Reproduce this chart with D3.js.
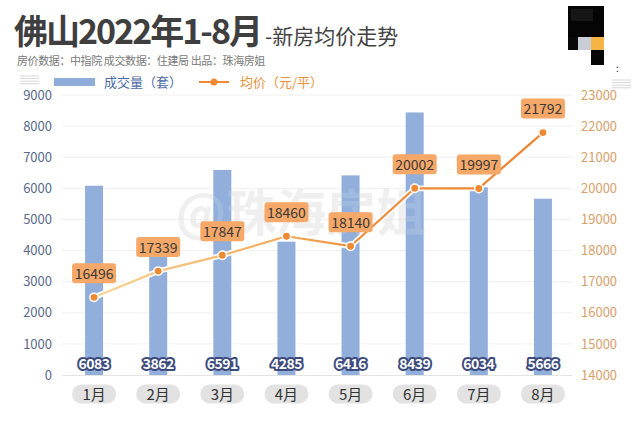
<!DOCTYPE html>
<html><head><meta charset="utf-8">
<script src="https://cdn.jsdelivr.net/npm/d3@7"></script>
<style>
html,body{margin:0;padding:0;background:#fff;}
svg{display:block;font-family:"Noto Sans CJK SC","Noto Sans",sans-serif;}
</style></head>
<body><svg id="c" width="640" height="425"></svg>
<script>
const months = ["1月","2月","3月","4月","5月","6月","7月","8月"];
const volume = [6083,3862,6591,4285,6416,8439,6034,5666];
const price = [16496,17339,17847,18460,18140,20002,19997,21792];
const leftTicks = [0,1000,2000,3000,4000,5000,6000,7000,8000,9000];
const rightTicks = [14000,15000,16000,17000,18000,19000,20000,21000,22000,23000];

const svg = d3.select("#c");
const x = d3.scalePoint().domain(months).range([62,575]).padding(0.5);
const yL = d3.scaleLinear().domain([0,9000]).range([375,95]);
const yR = d3.scaleLinear().domain([14000,23000]).range([375,95]);

// title
const t = svg.append("text").attr("x",14).attr("y",44).attr("fill","#3f3f3f");
t.append("tspan").attr("font-size",34).attr("font-weight","bold").attr("letter-spacing",-2).text("佛山2022年1-8月");
t.append("tspan").attr("font-size",21).attr("dx",4).attr("fill","#444").text("-新房均价走势");
svg.append("text").attr("x",17).attr("y",65).attr("font-size",11).attr("letter-spacing",-0.4).attr("fill","#7a7a7a")
  .text("房价数据：中指院 成交数据：住建局 出品：珠海房姐");

// pixel block top right
const blocks = [[568,6,36,31,"#050505"],[568,37,10,13,"#080808"],[578,37,13,13,"#c9ced6"],[591,37,13,13,"#f5b445"],[591,50,13,15,"#060606"],[571,9,22,12,"#161616"]];
svg.selectAll("rect.blk").data(blocks).join("rect").attr("class","blk")
  .attr("x",d=>d[0]).attr("y",d=>d[1]).attr("width",d=>d[2]).attr("height",d=>d[3]).attr("fill",d=>d[4]);
svg.append("text").attr("x",616).attr("y",72).attr("font-size",10).attr("fill","#222").text(":");

// menu icons
[[20,76],[612,80]].forEach(p=>{
  for(let i=0;i<4;i++) svg.append("line").attr("x1",p[0]).attr("x2",p[0]+19).attr("y1",p[1]+i*2.6).attr("y2",p[1]+i*2.6)
    .attr("stroke","#ccc").attr("stroke-width",0.8);
});

// legend
svg.append("rect").attr("x",54).attr("y",78).attr("width",41).attr("height",8).attr("fill","#8eaddb");
svg.append("text").attr("x",104).attr("y",87).attr("font-size",13).attr("fill","#4a6aa8").text("成交量（套）");
svg.append("line").attr("x1",199).attr("x2",229).attr("y1",82).attr("y2",82).attr("stroke","#ef8a33").attr("stroke-width",2);
svg.append("circle").attr("cx",214).attr("cy",82).attr("r",3.5).attr("fill","#ef8a33");
svg.append("text").attr("x",240).attr("y",87).attr("font-size",13).attr("fill","#e8923a").text("均价（元/平）");

// grid
svg.selectAll("line.grid").data(leftTicks.slice(1)).join("line").attr("class","grid")
  .attr("x1",62).attr("x2",572).attr("y1",d=>yL(d)).attr("y2",d=>yL(d)).attr("stroke","#f0f0f0").attr("stroke-width",1);
svg.append("line").attr("x1",62).attr("x2",572).attr("y1",yL(0)+0.5).attr("y2",yL(0)+0.5).attr("stroke","#e4e4e4");

// axes
const aL = svg.append("g").attr("transform","translate(52,0)")
  .call(d3.axisLeft(yL).tickValues(leftTicks).tickSize(0).tickPadding(0).tickFormat(d3.format("d")));
aL.select(".domain").remove();
aL.selectAll("text").attr("font-size",13).attr("fill","#5b6b8c").attr("font-family","Noto Sans CJK SC, sans-serif");
const aR = svg.append("g").attr("transform","translate(581,0)")
  .call(d3.axisRight(yR).tickValues(rightTicks).tickSize(0).tickPadding(0).tickFormat(d3.format("d")));
aR.select(".domain").remove();
aR.selectAll("text").attr("font-size",13).attr("fill","#d9a06b").attr("font-family","Noto Sans CJK SC, sans-serif");

// watermark
svg.append("text").attr("x",301).attr("y",231).attr("text-anchor","middle").attr("font-size",50)
  .attr("font-weight","bold").attr("fill","#e6e6e6").attr("opacity",0.7).text("@珠海房姐");

// bars
const bw = 18;
svg.selectAll("rect.bar").data(volume).join("rect").attr("class","bar")
  .attr("x",(d,i)=>x(months[i])-bw/2).attr("width",bw)
  .attr("y",d=>yL(d)).attr("height",d=>yL(0)-yL(d)).attr("fill","#92afdb");

// watermark lightly over bars
svg.append("text").attr("x",301).attr("y",231).attr("text-anchor","middle").attr("font-size",50)
  .attr("font-weight","bold").attr("fill","#ffffff").attr("opacity",0.12).text("@珠海房姐");

// bar labels
svg.selectAll("text.bl").data(volume).join("text").attr("class","bl")
  .attr("x",(d,i)=>x(months[i])).attr("y",369).attr("text-anchor","middle")
  .attr("font-size",14).attr("font-weight","bold").attr("fill","#fff")
  .attr("stroke","#3c4a7c").attr("stroke-width",4).attr("stroke-linejoin","round")
  .attr("paint-order","stroke").attr("letter-spacing",-0.5).text(d=>d);

// line gradient
const defs = svg.append("defs");
const g = defs.append("linearGradient").attr("id","lg").attr("gradientUnits","userSpaceOnUse")
  .attr("x1",x("1月")).attr("x2",x("8月")).attr("y1",0).attr("y2",0);
g.append("stop").attr("offset","0%").attr("stop-color","#f8d49a");
g.append("stop").attr("offset","38%").attr("stop-color","#f2b060");
g.append("stop").attr("offset","60%").attr("stop-color","#ee8c38");
g.append("stop").attr("offset","100%").attr("stop-color","#ee8530");

const line = d3.line().x((d,i)=>x(months[i])).y(d=>yR(d));
svg.append("path").datum(price).attr("d",line).attr("fill","none").attr("stroke","#fff").attr("stroke-width",5.5).attr("stroke-linejoin","round");
svg.append("path").datum(price).attr("d",line).attr("fill","none").attr("stroke","url(#lg)").attr("stroke-width",2.2).attr("stroke-linejoin","round");
svg.selectAll("circle.pt").data(price).join("circle").attr("class","pt")
  .attr("cx",(d,i)=>x(months[i])).attr("cy",d=>yR(d)).attr("r",4.2)
  .attr("fill","#ee8a32").attr("stroke","#fff").attr("stroke-width",1.5);

// price labels
const pl = svg.selectAll("g.pl").data(price).join("g").attr("class","pl")
  .attr("transform",(d,i)=>`translate(${x(months[i])},${yR(d)-24})`);
pl.append("rect").attr("x",-22).attr("y",-10).attr("width",44).attr("height",20).attr("rx",3)
  .attr("fill","#f6a868");
pl.append("text").attr("y",5.5).attr("text-anchor","middle").attr("font-size",14).attr("fill","#3a3a3a").text(d=>d);

// month pills
const mp = svg.selectAll("g.mp").data(months).join("g").attr("class","mp")
  .attr("transform",d=>`translate(${x(d)},394)`);
mp.append("rect").attr("x",-22).attr("y",-9.5).attr("width",44).attr("height",19).attr("rx",9.5).attr("fill","#e2e2e2");
mp.append("text").attr("y",5.5).attr("text-anchor","middle").attr("font-size",15).attr("fill","#333").text(d=>d);
</script></body></html>
